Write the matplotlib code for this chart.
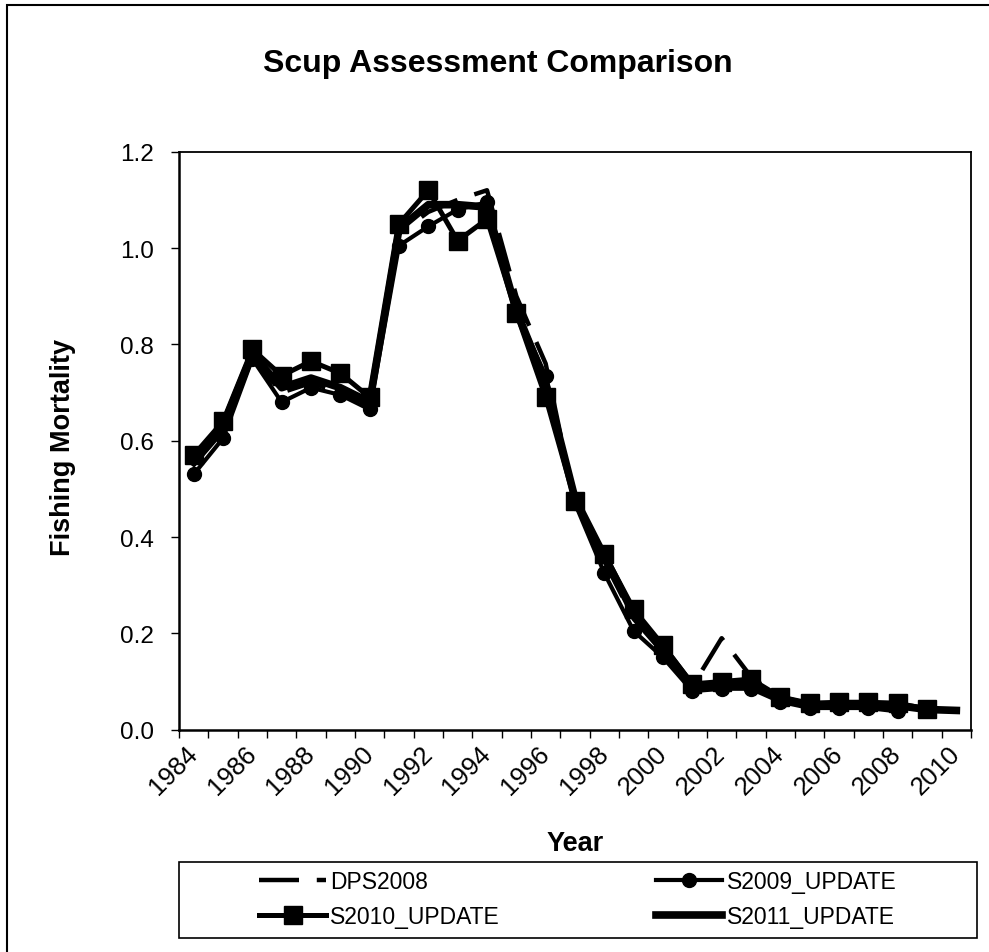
import matplotlib
matplotlib.use("Agg")
import matplotlib.pyplot as plt
from matplotlib.patches import Rectangle
from matplotlib.ticker import FixedLocator
import numpy as np

plt.rcParams['font.family'] = ['Liberation Sans', 'DejaVu Sans']

years = list(range(1984, 2011))

# fishing mortality (F) by assessment run
dps2008 = [0.55, 0.62, 0.77, 0.70, 0.72, 0.70, 0.675, 1.03, 1.075, 1.10, 1.12,
           0.90, 0.76, 0.47, 0.35, 0.23, 0.16, 0.09, 0.19, 0.11, 0.065, 0.05,
           0.05, 0.05]
s2009 = [0.53, 0.605, 0.77, 0.68, 0.71, 0.695, 0.665, 1.005, 1.045, 1.08, 1.095,
         0.87, 0.735, 0.47, 0.325, 0.205, 0.15, 0.08, 0.085, 0.085, 0.058,
         0.045, 0.045, 0.045, 0.038]
s2010 = [0.57, 0.64, 0.79, 0.735, 0.765, 0.74, 0.69, 1.05, 1.12, 1.015, 1.06,
         0.865, 0.69, 0.475, 0.365, 0.25, 0.175, 0.095, 0.10, 0.105, 0.068,
         0.055, 0.057, 0.057, 0.055, 0.043]
s2011 = [0.555, 0.63, 0.78, 0.71, 0.73, 0.71, 0.68, 1.04, 1.09, 1.09, 1.085,
         0.87, 0.72, 0.48, 0.36, 0.24, 0.17, 0.09, 0.095, 0.095, 0.065, 0.05,
         0.052, 0.052, 0.05, 0.042, 0.04]

W, H = 989, 953
fig = plt.figure(figsize=(W / 100, H / 100), dpi=100)
ax = fig.add_axes([179 / W, 1 - 730.7 / H, (971 - 179) / W, (730.7 - 152.7) / H])

x = np.arange(len(years))

l1, = ax.plot(x[:len(dps2008)], dps2008, color='black', lw=3.2,
              linestyle=(0, (9, 4)), solid_capstyle='butt')
l2, = ax.plot(x[:len(s2009)], s2009, color='black', lw=3.0, marker='o',
              markersize=10)
l3, = ax.plot(x[:len(s2010)], s2010, color='black', lw=3.6, marker='s',
              markersize=13)
l4, = ax.plot(x[:len(s2011)], s2011, color='black', lw=5.5)

ax.set_xlim(-0.5, len(years) - 0.5)
ax.set_ylim(0, 1.2)
ax.set_yticks(np.arange(0, 1.21, 0.2))
ax.set_yticklabels(['%.1f' % v for v in np.arange(0, 1.21, 0.2)])

# category axis: ticks between categories, labels on every other year
ax.xaxis.set_major_locator(FixedLocator(np.arange(-0.5, len(years), 1.0)))
ax.xaxis.set_major_formatter(plt.NullFormatter())
ax.xaxis.set_minor_locator(FixedLocator(x[::2]))
ax.set_xticklabels([str(y) for y in years[::2]], minor=True)
ax.tick_params(axis='x', which='major', direction='out', length=5.5, width=1.0)
ax.tick_params(axis='x', which='minor', length=0, pad=14, labelsize=18.5)
for lab in ax.get_xticklabels(minor=True):
    lab.set_rotation(45)
    lab.set_ha('right')
    lab.set_va('center')
    lab.set_rotation_mode('anchor')
ax.tick_params(axis='y', direction='out', length=6, width=1.0, pad=12,
               labelsize=17.5)

for side in ['left', 'bottom']:
    ax.spines[side].set_linewidth(1.8)
for side in ['top', 'right']:
    ax.spines[side].set_linewidth(1.3)

ax.set_xlabel('Year', fontsize=19.5, fontweight='bold')
ax.xaxis.set_label_coords(0.5, -0.1735)
ax.set_ylabel('Fishing Mortality', fontsize=19.5, fontweight='bold')
ax.yaxis.set_label_coords(-0.13, 0.49)

fig.text(0.503, 1 - 64 / H, 'Scup Assessment Comparison', ha='center',
         va='center', fontsize=23, fontweight='bold')

leg = fig.legend([l1, l3, l2, l4],
                 ['DPS2008', 'S2010_UPDATE', 'S2009_UPDATE', 'S2011_UPDATE'],
                 loc='center', bbox_to_anchor=(578 / W, 1 - 900 / H), ncol=2,
                 frameon=False, fontsize=16.5, handlelength=2.9,
                 handletextpad=0.2, columnspacing=6.8, labelspacing=0.5)

# legend frame and outer chart border
fig.patches.append(Rectangle((179 / W, 1 - 939 / H), 798 / W, 76 / H,
                             transform=fig.transFigure, fill=False,
                             edgecolor='black', lw=1.2))
fig.patches.append(Rectangle((7 / W, -0.05), 1.05, 1 - 6 / H + 0.05,
                             transform=fig.transFigure, fill=False,
                             edgecolor='black', lw=1.5, clip_on=False))

fig.savefig('out.png', dpi=100)
